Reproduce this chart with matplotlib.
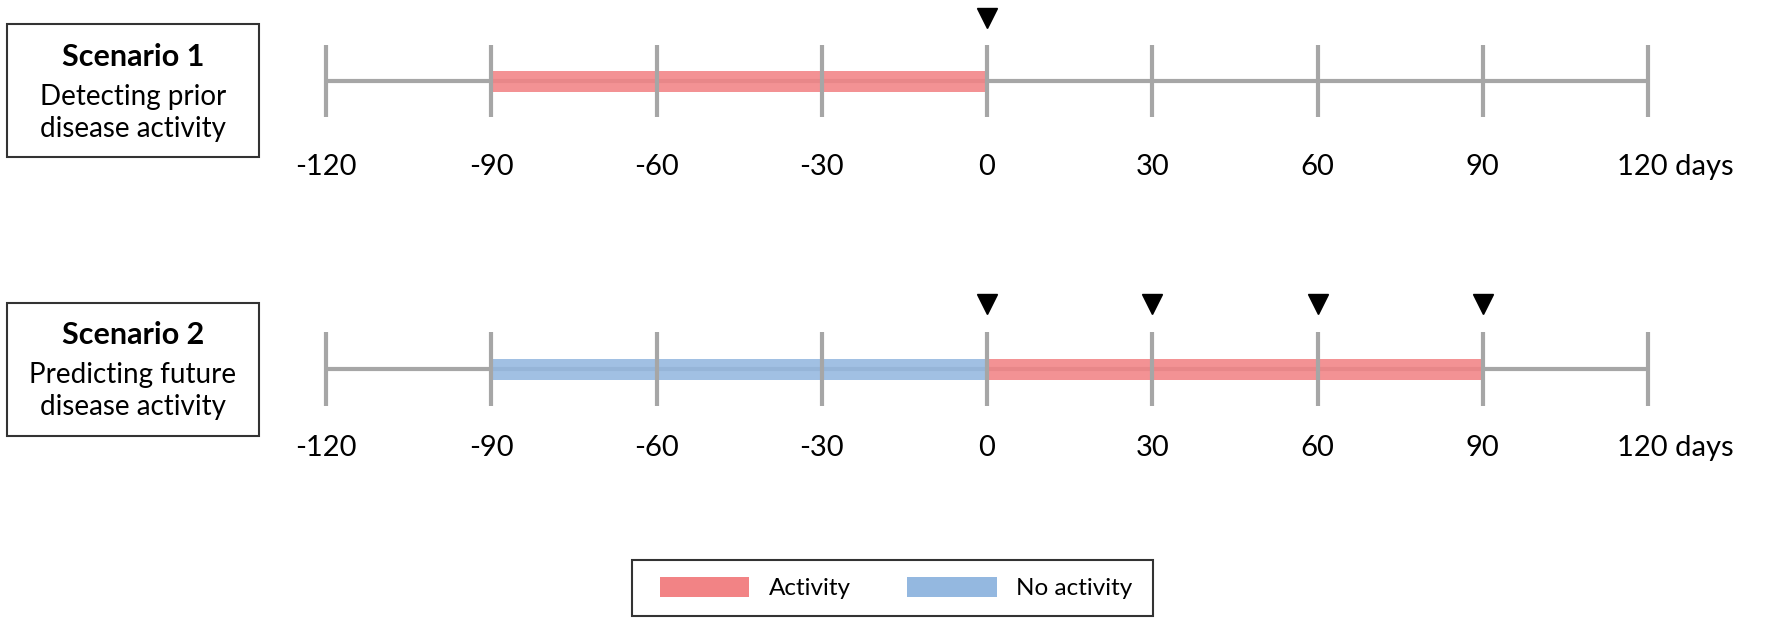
import matplotlib
matplotlib.use("Agg")
import matplotlib.pyplot as plt
from matplotlib.patches import Rectangle, Patch

plt.rcParams['font.family'] = ['Lato', 'DejaVu Sans']

# ---- data ----
days = [-120, -90, -60, -30, 0, 30, 60, 90, 120]
tick_labels = ['-120', '-90', '-60', '-30', '0', '30', '60', '90', '120 days']

s1_title = 'Scenario 1'
s1_sub = 'Detecting prior\ndisease activity'
s1_activity = [-90, 0]
s1_markers = [0]

s2_title = 'Scenario 2'
s2_sub = 'Predicting future\ndisease activity'
s2_no_activity = [-90, 0]
s2_activity = [0, 90]
s2_markers = [0, 30, 60, 90]

legend_labels = ['Activity', 'No activity']

RED = '#f28385'
BLUE = '#94b8e0'
GRAY = '#a6a6a6'

W, H = 1772, 623
fig = plt.figure(figsize=(W / 100, H / 100), dpi=100)
ax = fig.add_axes([0, 0, 1, 1])
# x in days, y in pixel rows from top
ppd = (1648 - 326) / 240.0
ax.set_xlim(-120 - 326 / ppd, 120 + (W - 1648) / ppd)
ax.set_ylim(H, 0)
ax.axis('off')


def px(x, y):
    return x / W, 1 - y / H


def timeline(yline, tick_half, band_half, label_y, marker_y, bands, markers):
    ax.plot([days[0], days[-1]], [yline, yline], color=GRAY, lw=3, solid_capstyle='butt', zorder=1)
    for d in days:
        ax.plot([d, d], [yline - tick_half, yline + tick_half], color=GRAY, lw=3,
                solid_capstyle='butt', zorder=3)
    for (a, b), c in bands:
        ax.fill_between([a, b], yline - band_half, yline + band_half, color=c,
                        alpha=0.88, lw=0, zorder=2)
    ax.plot(markers, [marker_y] * len(markers), 'v', color='black', ms=15, zorder=4)
    for d, lab in zip(days[:-1], tick_labels[:-1]):
        ax.text(d, label_y, lab, ha='center', va='center', fontsize=21, color='black')
    ax.annotate(tick_labels[-1], (days[-1], label_y), xytext=(-22, 0),
                textcoords='offset points', ha='left', va='center', fontsize=21)


def scenario_box(top, bottom, title, sub, title_y, sub_y):
    x0, y0 = px(7, bottom)
    x1, y1 = px(259, top)
    fig.patches.append(Rectangle((x0, y0), x1 - x0, y1 - y0, transform=fig.transFigure,
                                 fill=False, edgecolor='#333333', lw=1.5))
    fig.text(*px(133, title_y), title, ha='center', va='center', fontsize=22, fontweight='bold')
    fig.text(*px(133, sub_y), sub, ha='center', va='center', fontsize=20, linespacing=1.3)


timeline(81, 36, 10.5, 167, 18, [(s1_activity, RED)], s1_markers)
scenario_box(24, 157, s1_title, s1_sub, 57, 113)

timeline(369, 37, 10.5, 448, 304, [(s2_no_activity, BLUE), (s2_activity, RED)], s2_markers)
scenario_box(303, 436, s2_title, s2_sub, 335, 391)

# legend frame drawn separately, entries from the legend
lx0, ly0 = px(632, 616)
lx1, ly1 = px(1153, 560)
fig.patches.append(Rectangle((lx0, ly0), lx1 - lx0, ly1 - ly0, transform=fig.transFigure,
                             fill=False, edgecolor='#333333', lw=1.5))
handles = [Patch(facecolor=RED, edgecolor='none'), Patch(facecolor=BLUE, edgecolor='none')]
fig.legend(handles, legend_labels, loc='center', bbox_to_anchor=px(896, 588),
           ncol=2, fontsize=17.5, frameon=False,
           handlelength=3.7, handleheight=0.9, handletextpad=0.8,
           columnspacing=2.3, borderpad=0, borderaxespad=0)

fig.savefig('out.png', dpi=100)
